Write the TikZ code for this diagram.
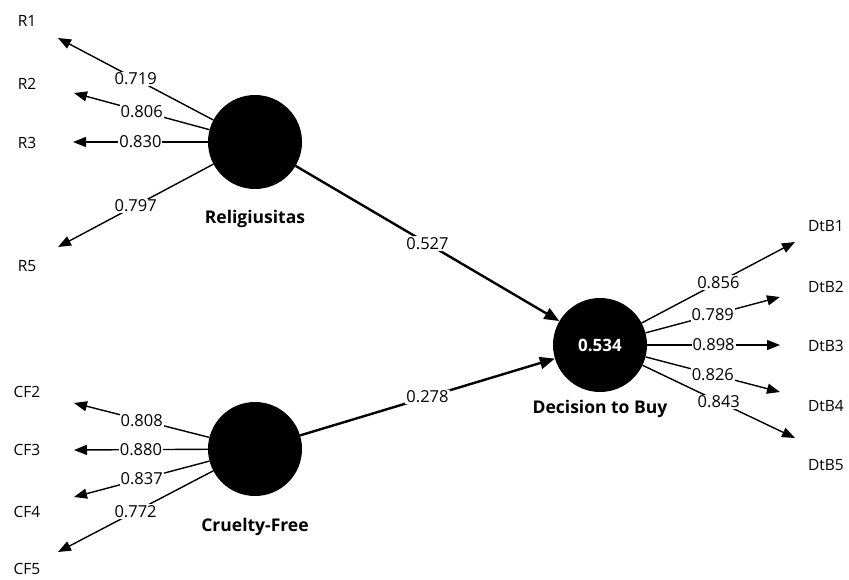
\documentclass[tikz,border=0pt]{standalone}
\usepackage{fontspec}
\setmainfont{Open Sans}
\usetikzlibrary{arrows.meta}
\begin{document}
\begin{tikzpicture}[x=1pt,y=-1pt,
 lv/.style={circle,fill=black,minimum size=94pt,inner sep=0pt},
 ind/.style={line width=1.4pt,-{Triangle[length=13pt,width=10pt]}},
 struct/.style={line width=2.4pt,-{Triangle[length=15pt,width=12pt]}},
 val/.style={fill=white,inner sep=1pt,font=\fontsize{16.5}{19}\selectfont},
 lab/.style={font=\fontsize{15.5}{18}\selectfont},
 cname/.style={font=\bfseries\fontsize{17.5}{20}\selectfont}]
\useasboundingbox (0,0) rectangle (849,579);
% latent variables
\node[lv] (rel) at (255,142) {};
\node[lv] (cf) at (255,449) {};
\node[lv,text=white,font=\bfseries\fontsize{17}{20}\selectfont] (dec) at (600,345) {0.534};
\node[cname] (relname) at (255,219) {Religiusitas};
\node[cname] (cfname) at (255,527) {Cruelty-Free};
\node[cname] (decname) at (600,409) {Decision to Buy};
% indicator tips
\coordinate (tR1) at (58,38);
\coordinate (tR2) at (74,93);
\coordinate (tR3) at (73,142);
\coordinate (tR5) at (58,247);
\coordinate (tCF2) at (74,403);
\coordinate (tCF3) at (74,450);
\coordinate (tCF4) at (74,497);
\coordinate (tCF5) at (58,552);
\coordinate (tD1) at (795,242);
\coordinate (tD2) at (780,297);
\coordinate (tD3) at (780,345);
\coordinate (tD4) at (780,392);
\coordinate (tD5) at (795,438);
% indicator names
\node[lab] (R1) at (27,21) {R1};
\node[lab] (R2) at (27,84) {R2};
\node[lab] (R3) at (27,143) {R3};
\node[lab] (R5) at (27,266) {R5};
\node[lab] (CF2) at (27,392) {CF2};
\node[lab] (CF3) at (27,450) {CF3};
\node[lab] (CF4) at (27,512) {CF4};
\node[lab] (CF5) at (27,569) {CF5};
\node[lab] (D1) at (826,226) {DtB1};
\node[lab] (D2) at (826,287) {DtB2};
\node[lab] (D3) at (826,346) {DtB3};
\node[lab] (D4) at (826,406) {DtB4};
\node[lab] (D5) at (826,465) {DtB5};
% loadings
\draw[ind] (rel) -- node[val] {0.719} (tR1);
\draw[ind] (rel) -- node[val] {0.806} (tR2);
\draw[ind] (rel) -- node[val] {0.830} (tR3);
\draw[ind] (rel) -- node[val] {0.797} (tR5);
\draw[ind] (cf) -- node[val] {0.808} (tCF2);
\draw[ind] (cf) -- node[val] {0.880} (tCF3);
\draw[ind] (cf) -- node[val] {0.837} (tCF4);
\draw[ind] (cf) -- node[val] {0.772} (tCF5);
\draw[ind] (dec) -- node[val] {0.856} (tD1);
\draw[ind] (dec) -- node[val] {0.789} (tD2);
\draw[ind] (dec) -- node[val] {0.898} (tD3);
\draw[ind] (dec) -- node[val] {0.826} (tD4);
\draw[ind] (dec) -- node[val] {0.843} (tD5);
% paths
\draw[struct] (rel) -- node[val] {0.527} (dec);
\draw[struct] (cf) -- node[val] {0.278} (dec);
\end{tikzpicture}
\end{document}
